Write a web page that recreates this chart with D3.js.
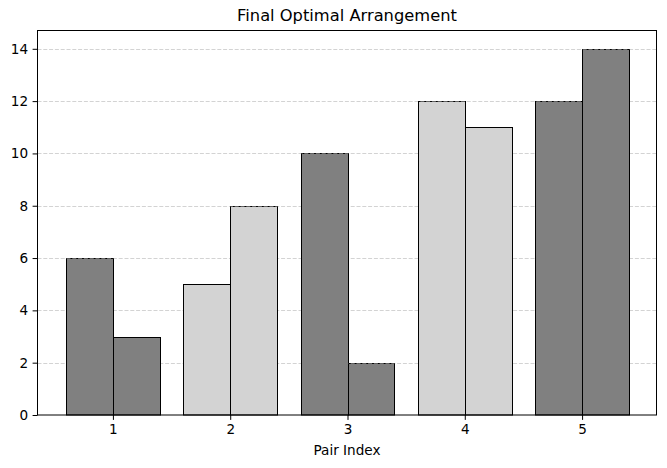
<!DOCTYPE html>
<html><head><meta charset="utf-8">
<script src="https://cdn.jsdelivr.net/npm/d3@7"></script>
<style>body{margin:0;background:#fff}svg{display:block}text{font-family:"DejaVu Sans",sans-serif}</style>
</head><body><svg id="c" width="667" height="468"></svg>
<script>
const pairs = [1, 2, 3, 4, 5];
const firstValues = [6, 5, 10, 12, 12];
const secondValues = [3, 8, 2, 11, 14];
const pairColors = ["#808080", "#d3d3d3", "#808080", "#d3d3d3", "#808080"];
const yTicks = [0, 2, 4, 6, 8, 10, 12, 14];
const titleText = "Final Optimal Arrangement";
const xLabel = "Pair Index";

const svg = d3.select("#c");
const L = 37.5, R = 656.5, T = 30.5, B = 415;
const barW = 0.4;
const x = d3.scaleLinear().domain([0.36, 5.64]).range([37.85, 657.15]);
const y = d3.scaleLinear().domain([0, 14.7]).range([B, T]);
const gy = d => Math.round(y(d)) + 0.5;
const dash = "4,1.8";
const gridColor = "#b0b0b0";

// grid
svg.append("g").selectAll("line").data(yTicks.filter(d => d > 0)).join("line")
  .attr("x1", L).attr("x2", R)
  .attr("y1", gy).attr("y2", gy)
  .attr("stroke", gridColor).attr("stroke-opacity", 0.7).attr("stroke-width", 0.8)
  .attr("stroke-dasharray", dash);

const bars = [];
pairs.forEach((p, i) => {
  bars.push({x0: p - barW, v: firstValues[i], c: pairColors[i]});
  bars.push({x0: p, v: secondValues[i], c: pairColors[i]});
});
svg.append("g").selectAll("rect").data(bars).join("rect")
  .attr("x", d => Math.round(x(d.x0)) + 0.5).attr("width", d => Math.round(x(d.x0 + barW)) - Math.round(x(d.x0)))
  .attr("y", d => gy(d.v)).attr("height", d => y(0) - gy(d.v))
  .attr("fill", d => d.c).attr("stroke", "#000").attr("stroke-width", 1);

// grid showing over bar tops that sit on a grid level
svg.append("g").selectAll("line").data(bars.filter(d => yTicks.includes(d.v) && d.v > 0)).join("line")
  .attr("x1", d => Math.round(x(d.x0)) + 0.5).attr("x2", d => Math.round(x(d.x0 + barW)) + 0.5)
  .attr("y1", d => gy(d.v)).attr("y2", d => gy(d.v))
  .attr("stroke", gridColor).attr("stroke-opacity", 0.7).attr("stroke-width", 0.8)
  .attr("stroke-dasharray", dash)
  .attr("stroke-dashoffset", d => Math.round(x(d.x0)) + 0.5 - L);

// axes
const xa = svg.append("g").attr("transform", `translate(0,${B})`)
  .call(d3.axisBottom(x).tickValues(pairs).tickFormat(d3.format("d")).tickSize(4.9).tickPadding(4.5));
const ya = svg.append("g").attr("transform", `translate(${L},0)`)
  .call(d3.axisLeft(y).tickValues(yTicks).tickSize(4.9).tickPadding(4.5));
[xa, ya].forEach(a => {
  a.select(".domain").remove();
  a.selectAll("text").attr("font-size", "13.6px").attr("fill", "#000").attr("font-family", "DejaVu Sans");
  a.selectAll("line").attr("stroke", "#000").attr("stroke-width", 1);
});
svg.append("rect").attr("x", L).attr("y", T).attr("width", R - L).attr("height", B - T)
  .attr("fill", "none").attr("stroke", "#000").attr("stroke-width", 1);

svg.append("text").attr("x", (L + R) / 2).attr("y", 21).attr("text-anchor", "middle")
  .attr("font-size", "16.3px").text(titleText);
svg.append("text").attr("x", (L + R) / 2).attr("y", 455).attr("text-anchor", "middle")
  .attr("font-size", "13.6px").text(xLabel);
</script></body></html>
